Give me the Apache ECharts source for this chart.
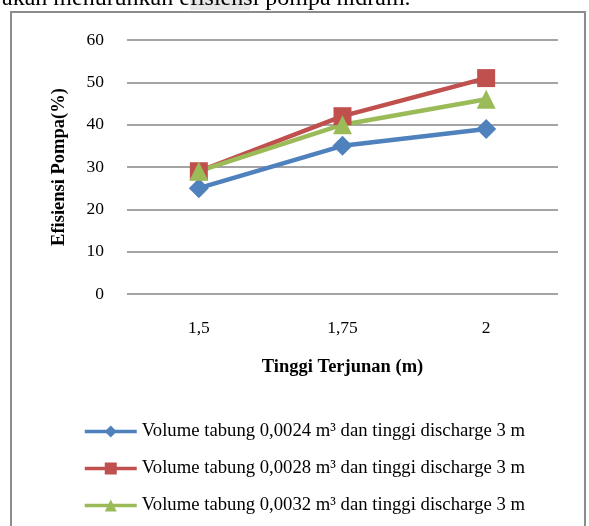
<!DOCTYPE html>
<html>
<head>
<meta charset="utf-8">
<script src="https://cdn.jsdelivr.net/npm/echarts@6/dist/echarts.min.js"></script>
<style>
  html, body { margin: 0; padding: 0; background: #fff; }
  #chart { width: 589px; height: 526px; }
</style>
</head>
<body>
<div id="chart"></div>
<script>
var categories = ['1,5', '1,75', '2'];
var seriesNames = [
  'Volume tabung 0,0024 m³ dan tinggi discharge 3 m',
  'Volume tabung 0,0028 m³ dan tinggi discharge 3 m',
  'Volume tabung 0,0032 m³ dan tinggi discharge 3 m'
];
var vol0024 = [25, 35, 39];
var vol0028 = [29, 42, 51];
var vol0032 = [29, 40, 46];
var colors = ['#4F81BD', '#C0504D', '#9BBB59'];
var symbols = ['diamond', 'rect', 'triangle'];
var symbolSizes = [20, 18, 19];

var serif = '"Liberation Serif", "Times New Roman", serif';

function makeSeries(i, data) {
  return {
    name: seriesNames[i],
    type: 'line',
    data: data,
    symbol: symbols[i],
    symbolSize: symbolSizes[i],
    color: colors[i],
    lineStyle: { width: 4.5, color: colors[i] },
    itemStyle: { color: colors[i] },
    animation: false
  };
}

var chart = echarts.init(document.getElementById('chart'));
var option = {
  backgroundColor: '#fff',
  animation: false,
  grid: { left: 127, right: 31, top: 40, bottom: 232 },
  xAxis: {
    type: 'category',
    data: categories,
    boundaryGap: true,
    axisLine: { show: false },
    axisTick: { show: false },
    axisLabel: { color: '#000', fontFamily: serif, fontSize: 17.5, margin: 25 },
    name: 'Tinggi Terjunan (m)',
    nameLocation: 'middle',
    nameGap: 64,
    nameTextStyle: { color: '#000', fontFamily: serif, fontSize: 18.5, fontWeight: 'bold' }
  },
  yAxis: {
    type: 'value',
    min: 0,
    max: 60,
    interval: 10,
    axisLine: { show: false },
    axisTick: { show: false },
    axisLabel: { color: '#000', fontFamily: serif, fontSize: 17.5, margin: 23 },
    splitLine: { lineStyle: { color: '#868686', width: 1.5 } },
    name: 'Efisiensi Pompa(%)',
    nameLocation: 'middle',
    nameGap: 58,
    nameTextStyle: { color: '#000', fontFamily: serif, fontSize: 18.5, fontWeight: 'bold' }
  },
  legend: {
    orient: 'vertical',
    left: 78,
    top: 417,
    itemWidth: 52,
    itemHeight: 15,
    itemGap: 18,
    lineStyle: { width: 3.5 },
    textStyle: { color: '#000', fontFamily: serif, fontSize: 18.7 },
    data: seriesNames
  },
  graphic: [
    {
      type: 'rect',
      shape: { x: 11, y: 12, width: 574, height: 530 },
      style: { fill: 'none', stroke: '#8c8c8c', lineWidth: 2 },
      silent: true
    },
    {
      type: 'rect',
      shape: { x: 190, y: 0, width: 60, height: 10 },
      style: { fill: '#e6e6e6' },
      silent: true
    },
    {
      type: 'text',
      x: 2,
      y: 11,
      style: {
        text: 'akan menurunkan efisiensi pompa hidram.',
        font: '24px ' + serif,
        fill: '#000',
        verticalAlign: 'bottom'
      },
      silent: true
    }
  ],
  series: [
    makeSeries(0, vol0024),
    makeSeries(1, vol0028),
    makeSeries(2, vol0032)
  ]
};
chart.setOption(option);
</script>
</body>
</html>
